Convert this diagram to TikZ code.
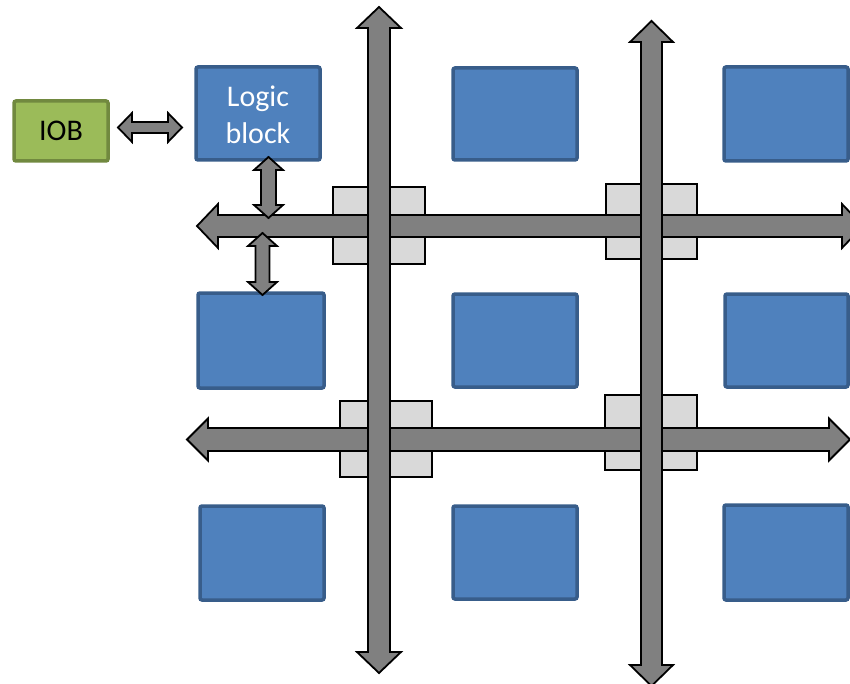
\documentclass[tikz,border=0pt]{standalone}
\usepackage{fontspec}
\setmainfont{Carlito}
\definecolor{lbfill}{HTML}{4F81BD}
\definecolor{lbdraw}{HTML}{385D8A}
\definecolor{iobfill}{HTML}{9BBB59}
\definecolor{iobdraw}{HTML}{71893F}
\definecolor{busfill}{HTML}{808080}
\definecolor{swfill}{HTML}{D9D9D9}
\newcommand\harr[6]{% x1 x2 y shafthalf headhalf headlen
  \draw[busarrow] (#1,#3) -- (#1+#6,#3-#5) -- (#1+#6,#3-#4) -- (#2-#6,#3-#4) -- (#2-#6,#3-#5) -- (#2,#3) -- (#2-#6,#3+#5) -- (#2-#6,#3+#4) -- (#1+#6,#3+#4) -- (#1+#6,#3+#5) -- cycle;}
\newcommand\varr[6]{% y1 y2 x shafthalf headhalf headlen
  \draw[busarrow] (#3,#1) -- (#3-#5,#1+#6) -- (#3-#4,#1+#6) -- (#3-#4,#2-#6) -- (#3-#5,#2-#6) -- (#3,#2) -- (#3+#5,#2-#6) -- (#3+#4,#2-#6) -- (#3+#4,#1+#6) -- (#3+#5,#1+#6) -- cycle;}
\begin{document}
\begin{tikzpicture}[x=1pt,y=-1pt,
  lblock/.style={draw=lbdraw,fill=lbfill,line width=3.5pt,rounded corners=2pt},
  iob/.style={draw=iobdraw,fill=iobfill,line width=3.5pt,rounded corners=2pt},
  busarrow/.style={draw=black,fill=busfill,line width=1.8pt,line join=miter},
  swbox/.style={draw=black,fill=swfill,line width=1.5pt}]
\useasboundingbox (0,0) rectangle (850,684);
\clip (0,0) rectangle (850,684);
% IOB
\draw[iob] (14,101) rectangle (108,161);
\node[font=\fontsize{30}{37}\selectfont,text=black] (iobtext) at (61,131) {IOB};
% logic blocks
\draw[lblock] (196,67) rectangle (320,160);
\node[font=\fontsize{30}{37}\selectfont,text=white,align=center] (lbtext) at (258,115) {Logic\\block};
\draw[lblock] (453,68) rectangle (577,160);
\draw[lblock] (724,67) rectangle (848,161);
\draw[lblock] (198,293) rectangle (324,388);
\draw[lblock] (453,294) rectangle (577,387);
\draw[lblock] (725,294) rectangle (848,387);
\draw[lblock] (200,506) rectangle (324,600);
\draw[lblock] (453,506) rectangle (577,599);
\draw[lblock] (724,505) rectangle (848,600);
% switch boxes
\draw[swbox] (333,187) rectangle (425,264);
\draw[swbox] (606,184) rectangle (697,259);
\draw[swbox] (340,401) rectangle (432,477);
\draw[swbox] (605,395) rectangle (697,470);
% horizontal buses
\harr{197}{863}{226}{11}{22}{21}
\harr{187}{850}{439.5}{11.5}{21}{21}
% vertical buses
\varr{7}{673}{379}{11}{22}{21}
\varr{21}{686}{651.5}{10.5}{21.5}{21}
% small arrows
\harr{118}{182}{127.5}{5.5}{14.5}{14}
\varr{157}{218}{268.5}{7.5}{14.5}{13}
\varr{233}{295}{262.5}{7}{14.5}{13}
\end{tikzpicture}
\end{document}
